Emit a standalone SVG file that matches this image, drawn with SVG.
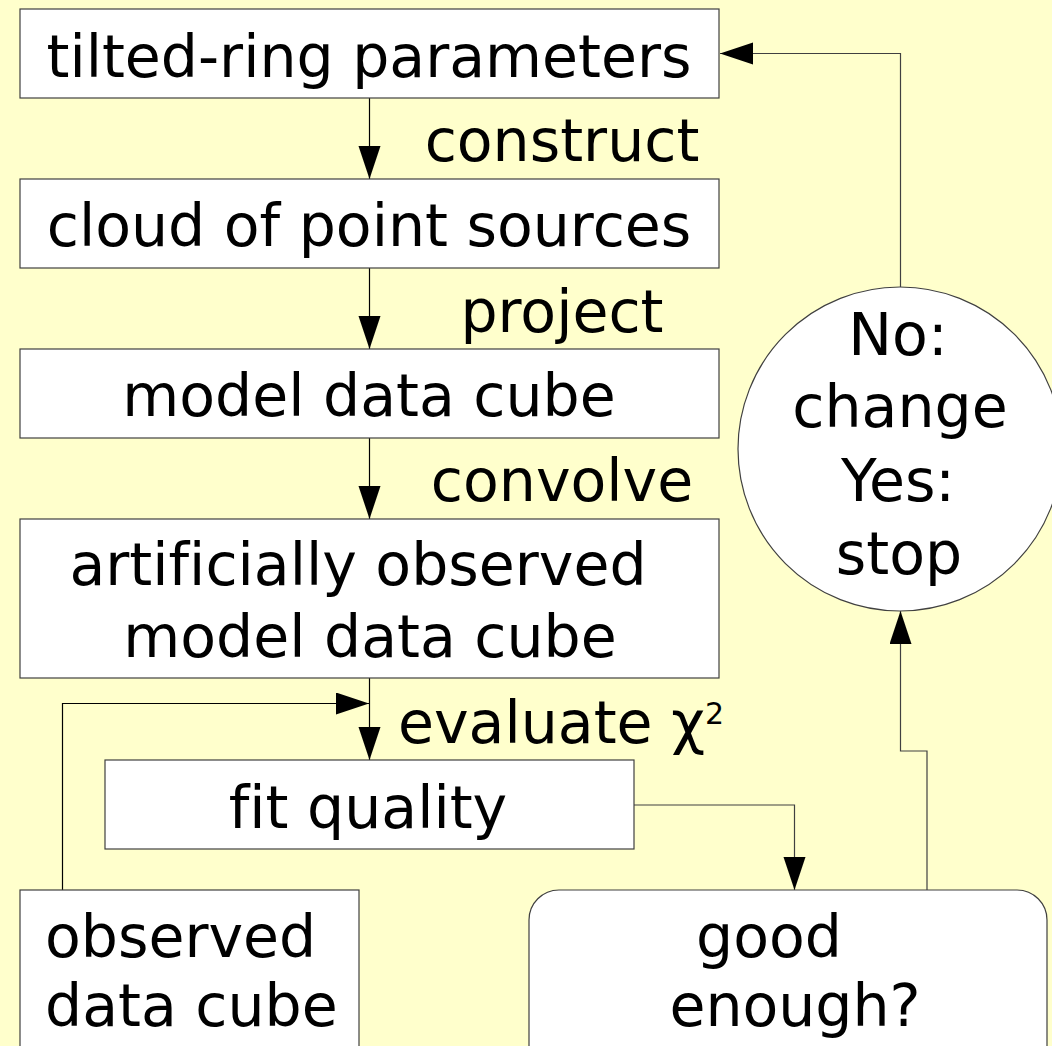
<svg xmlns="http://www.w3.org/2000/svg" width="1052" height="1046" viewBox="0 0 1052 1046">
<defs>
<marker id="ah" markerUnits="userSpaceOnUse" markerWidth="34" markerHeight="23" refX="33" refY="11" orient="auto" viewBox="0 0 34 23">
<path d="M0,0 L33,11 L0,22 z" fill="#000"/>
</marker>
<style>
.box{fill:#fff;stroke:#404040;stroke-width:1.2}
.t{font-family:"DejaVu Sans","Verdana",sans-serif;font-size:58.5px;fill:#000;font-variant-ligatures:none;font-feature-settings:"liga" 0}
.m{text-anchor:middle}
.c{fill:none;stroke:#000;stroke-width:1.2}
.g{fill:none;stroke:#404040;stroke-width:1.2}
</style>
</defs>
<rect width="1052" height="1046" fill="#ffffcc"/>

<g id="connectors">
<line class="c" x1="369.5" y1="98" x2="369.5" y2="179" marker-end="url(#ah)"/>
<line class="c" x1="369.5" y1="268" x2="369.5" y2="349" marker-end="url(#ah)"/>
<line class="c" x1="369.5" y1="438" x2="369.5" y2="519" marker-end="url(#ah)"/>
<line class="c" x1="369.5" y1="678" x2="369.5" y2="760" marker-end="url(#ah)"/>
<polyline class="c" points="62.5,890 62.5,703.5 369,703.5" marker-end="url(#ah)"/>
<polyline class="g" points="634,805 794.5,805 794.5,890" marker-end="url(#ah)"/>
<polyline class="g" points="927,890 927,751 900.5,751 900.5,611" marker-end="url(#ah)"/>
<polyline class="g" points="900.5,287 900.5,53.5 720,53.5" marker-end="url(#ah)"/>
<text class="t m" x="562" y="161">construct</text>
<text class="t m" x="562" y="332">project</text>
<text class="t m" x="562" y="501">convolve</text>
<text class="t" x="398" y="743">evaluate χ</text>
<text x="705" y="724" style="font-family:'DejaVu Sans',sans-serif;font-size:30px;fill:#000">2</text>
</g>

<g id="n1">
<rect class="box" x="20" y="9" width="699" height="89"/>
<text class="t m" x="369" y="77">tilted-ring parameters</text>
</g>
<g id="n2">
<rect class="box" x="20" y="179" width="699" height="89"/>
<text class="t m" x="369" y="246">cloud of point sources</text>
</g>
<g id="n3">
<rect class="box" x="20" y="349" width="699" height="89"/>
<text class="t m" x="369" y="416">model data cube</text>
</g>
<g id="n4">
<rect class="box" x="20" y="519" width="699" height="159"/>
<text class="t m" x="358" y="585">artificially observed</text>
<text class="t m" x="370" y="657">model data cube</text>
</g>
<g id="n5">
<rect class="box" x="105" y="760" width="529" height="89"/>
<text class="t m" x="368" y="828">fit quality</text>
</g>
<g id="n6">
<rect class="box" x="20" y="890" width="339" height="200"/>
<text class="t" x="45" y="957">observed</text>
<text class="t" x="45" y="1026">data cube</text>
</g>
<g id="n7">
<rect class="box" x="529" y="890" width="518" height="220" rx="30" ry="30"/>
<text class="t m" x="769" y="957">good</text>
<text class="t m" x="795" y="1026">enough?</text>
</g>
<g id="n8">
<circle class="box" cx="900" cy="449" r="162"/>
<text class="t m" x="898" y="355">No:</text>
<text class="t m" x="900" y="427">change</text>
<text class="t m" x="898" y="501">Yes:</text>
<text class="t m" x="899" y="574">stop</text>
</g>
</svg>
